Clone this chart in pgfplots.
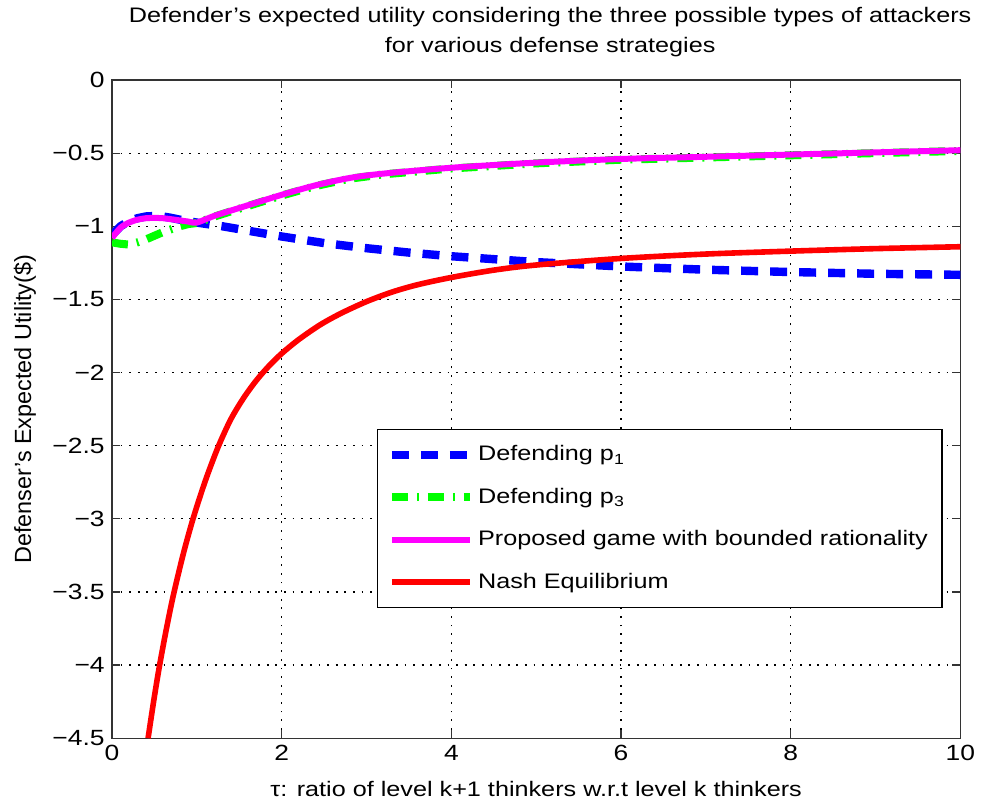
\documentclass[border=0pt]{standalone}
\usepackage{pgfplots}
\pgfplotsset{compat=1.18}
\usepackage{fontspec}
\setmainfont[FakeStretch=1.2]{Liberation Sans}
\newfontfamily\ylabfont{Liberation Sans}
\definecolor{mgnt}{RGB}{255,0,255}
\definecolor{grn}{RGB}{0,255,0}

% values in units of 1e5
\pgfplotstableread{
x y
0 -1.06
0.1 -1.0
0.2 -0.965
0.3 -0.945
0.4 -0.933
0.5 -0.93
0.6 -0.933
0.7 -0.943
0.8 -0.955
0.9 -0.965
1.0 -0.975
1.3 -1.0
1.6 -1.03
2.0 -1.07
2.5 -1.115
3.0 -1.15
3.5 -1.18
4.0 -1.205
5.0 -1.245
6.0 -1.275
7.0 -1.297
8.0 -1.313
9.0 -1.325
10.0 -1.332
}\defendA

\pgfplotstableread{
x y
0 -1.11
0.1 -1.12
0.2 -1.125
0.3 -1.11
0.4 -1.09
0.5 -1.065
0.6 -1.04
0.7 -1.02
0.8 -1.0
0.9 -0.985
1.0 -0.978
1.2 -0.935
1.5 -0.88
2.0 -0.79
2.4 -0.725
2.8 -0.675
3.2 -0.645
4.0 -0.605
5.0 -0.57
6.0 -0.545
7.0 -0.53
8.0 -0.515
9.0 -0.5
10.0 -0.485
}\defendC

\pgfplotstableread{
x y
0 -1.08
0.1 -1.01
0.2 -0.975
0.3 -0.955
0.4 -0.945
0.5 -0.943
0.6 -0.945
0.7 -0.952
0.8 -0.96
0.9 -0.968
1.0 -0.975
1.2 -0.93
1.5 -0.875
2.0 -0.785
2.4 -0.72
2.8 -0.67
3.2 -0.64
4.0 -0.60
5.0 -0.565
6.0 -0.54
7.0 -0.525
8.0 -0.51
9.0 -0.495
10.0 -0.48
}\proposed

\pgfplotstableread{
x y
0.425 -4.5
0.49 -4.25
0.555 -4.02
0.635 -3.77
0.72 -3.53
0.84 -3.24
0.96 -2.99
1.1 -2.74
1.25 -2.51
1.4 -2.32
1.55 -2.175
1.7 -2.055
1.85 -1.955
2.0 -1.87
2.2 -1.775
2.45 -1.675
2.7 -1.595
3.0 -1.515
3.3 -1.45
3.6 -1.40
4.0 -1.35
4.5 -1.30
5.0 -1.265
6.0 -1.22
7.0 -1.19
8.0 -1.17
9.0 -1.153
10.0 -1.14
}\nash

\begin{document}
\fontsize{10.5}{13}\selectfont
\begin{tikzpicture}
\begin{axis}[
  name=ax,
  scale only axis, width=424pt, height=329pt,
  xmin=0, xmax=10, ymin=-4.5, ymax=0,
  xtick={0,2,4,6,8,10}, xticklabels={0,2,4,6,8,10},
  ytick={-4.5,-4,-3.5,-3,-2.5,-2,-1.5,-1,-0.5,0},
  yticklabels={−4.5,−4,−3.5,−3,−2.5,−2,−1.5,−1,−0.5,0},
  tick label style={font=\fontsize{11}{13}\selectfont},
  tick pos=both, tick align=inside, major tick length=4pt,
  axis line style={line width=0.7pt, black!80},
  every tick/.style={black!80, line width=0.6pt},
  grid=major,
  grid style={black, line width=0.6pt, dash pattern=on 0.9pt off 3.4pt},
  title={Defender’s expected utility considering the three possible types of attackers\\for various defense strategies},
  title style={align=center, font=\fontsize{10.5}{15}\selectfont, xshift=7pt, yshift=2pt},
  xlabel={τ: ratio of level k+1 thinkers w.r.t level k thinkers},
  ylabel={\ylabfont Defenser’s Expected Utility(\$)},
  xlabel style={yshift=-3pt, font=\fontsize{10.5}{13}\selectfont},
  ylabel style={yshift=1pt, font=\fontsize{11.7}{13}\selectfont},
  legend cell align=left,
  legend style={at={(rel axis cs:0.979,0.198)}, anchor=south east,
    draw=black, line width=0.6pt, row sep=8pt, inner xsep=5pt, inner ysep=6pt,
    font=\fontsize{10.5}{13}\selectfont},
  legend image code/.code={\draw[#1] (0pt,0pt) -- (39pt,0pt);},
  clip=true,
]
\addplot[blue, line width=4.2pt, dash pattern=on 8.5pt off 6pt] table {\defendA};
\addlegendentry{Defending p\textsubscript{1}}
\addplot[grn, line width=4pt, dash pattern=on 8pt off 4.5pt on 1pt off 4.5pt] table {\defendC};
\addlegendentry{Defending p\textsubscript{3}}
\addplot[mgnt, line width=3pt, smooth] table {\proposed};
\addlegendentry{Proposed game with bounded rationality}
\addplot[red, line width=2.8pt, smooth] table {\nash};
\addlegendentry{Nash Equilibrium}
\node[anchor=south west, inner sep=1pt, font=\fontsize{10}{12}\selectfont] at (rel axis cs:0,1) {x 10\textsuperscript{5}};
\end{axis}
\path ([xshift=-56pt]ax.south west);
\end{tikzpicture}
\end{document}
